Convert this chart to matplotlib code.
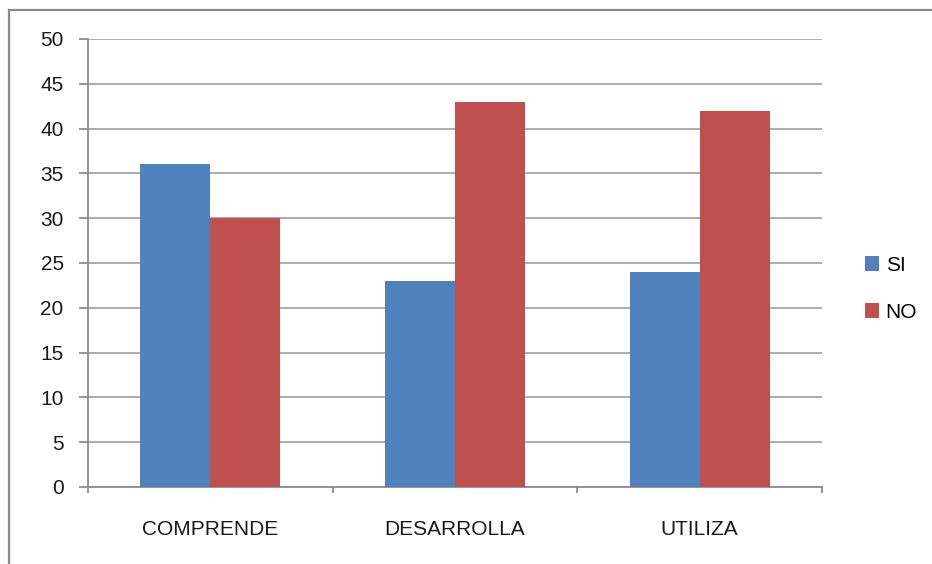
import matplotlib
matplotlib.use("Agg")
import matplotlib.pyplot as plt
from matplotlib.lines import Line2D
from matplotlib.patches import Patch
import numpy as np

categories = ["COMPRENDE", "DESARROLLA", "UTILIZA"]
si_values = [36, 23, 24]
no_values = [30, 43, 42]
y_ticks = [0, 5, 10, 15, 20, 25, 30, 35, 40, 45, 50]

BLUE = "#4F81BD"
RED = "#C0504D"
GRID = "#A6A6A6"
AXIS = "#8C8C8C"

plt.rcParams["font.family"] = ["Liberation Sans", "DejaVu Sans"]

W, H = 932, 564
fig = plt.figure(figsize=(W / 100, H / 100), dpi=100)
fig.patch.set_facecolor("white")

# outer chart frame (top and left edges visible)
fig.add_artist(Line2D([9 / W, 9 / W], [0, 1 - 10 / H], color="#8A8A8A", lw=1.6,
                      transform=fig.transFigure))
fig.add_artist(Line2D([9 / W, 1], [1 - 10 / H, 1 - 10 / H], color="#8A8A8A", lw=1.6,
                      transform=fig.transFigure))

ax = fig.add_axes([88 / W, 1 - 487 / H, (822 - 88) / W, (487 - 39) / H])

x = np.arange(len(categories))
bw = 0.2857
ax.bar(x - bw / 2, si_values, width=bw, color=BLUE, label="SI", zorder=3)
ax.bar(x + bw / 2, no_values, width=bw, color=RED, label="NO", zorder=3)

ax.set_xlim(-0.5, len(categories) - 0.5)
ax.set_ylim(0, 50)
ax.set_yticks(y_ticks)
ax.yaxis.grid(True, color=GRID, lw=1.3, zorder=0)
ax.set_axisbelow(True)

for side in ["top", "right"]:
    ax.spines[side].set_visible(False)
ax.spines["left"].set_color(AXIS)
ax.spines["bottom"].set_color(AXIS)
ax.spines["left"].set_linewidth(1.3)
ax.spines["bottom"].set_linewidth(1.3)

ax.tick_params(axis="y", length=6.5, width=1.3, color=AXIS, pad=11,
               labelsize=15, labelcolor="#1a1a1a")
ax.set_xticks(x)
ax.set_xticklabels(categories)
ax.tick_params(axis="x", which="major", length=0, pad=24, labelsize=15,
               labelcolor="#1a1a1a")
ax.set_xticks(np.arange(-0.5, len(categories)), minor=True)
ax.tick_params(axis="x", which="minor", length=4, width=1.3, color=AXIS)

handles = [Patch(facecolor=BLUE, label="SI"), Patch(facecolor=RED, label="NO")]
fig.legend(handles=handles, loc="center left", bbox_to_anchor=(846 / W, 1 - 289 / H),
           frameon=False, fontsize=15, handlelength=0.7, handleheight=0.7,
           handletextpad=0.3, labelspacing=1.35)

fig.savefig("out.png", dpi=100)
